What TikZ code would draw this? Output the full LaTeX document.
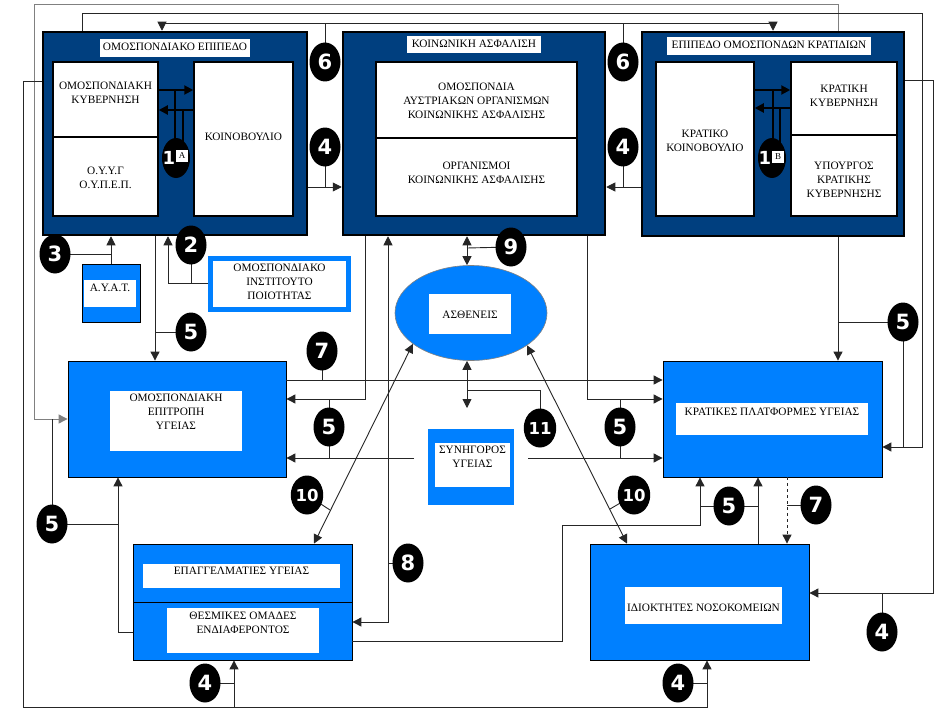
\documentclass[tikz,border=0pt]{standalone}
\usepackage{fontspec}
\setmainfont{Liberation Serif}
\newfontfamily\badgefont{DejaVu Sans}
\usetikzlibrary{arrows.meta,shapes.geometric,calc}
\definecolor{navy}{RGB}{0,63,127}
\definecolor{bright}{RGB}{0,128,255}
\tikzset{
 conn/.style={draw=black!85,line width=0.9pt},
 arr/.style={-{Triangle[length=9pt,width=9pt]}},
 darr/.style={{Triangle[length=9pt,width=9pt]}-{Triangle[length=9pt,width=9pt]}},
 thickconn/.style={draw=black,line width=2pt},
 darkbox/.style={draw=black,line width=2.5pt,fill=navy,inner sep=0},
 wbox/.style={draw=black,line width=1.5pt,fill=white,inner sep=0},
 bbox/.style={draw=black,line width=0.8pt,fill=bright,inner sep=0},
 wlab/.style={fill=white,inner sep=0},
 txt/.style={font=\fontsize{11.3}{14}\selectfont,align=center,inner sep=0,text=black},
 badge/.style={ellipse,fill=black,inner sep=0,minimum width=31,minimum height=39,text=white,font=\badgefont\bfseries\fontsize{21}{21}\selectfont},
 badgesm/.style={badge,font=\badgefont\bfseries\fontsize{16.5}{16.5}\selectfont},
}
\begin{document}
\begin{tikzpicture}[x=1pt,y=-1pt]
\useasboundingbox[fill=white] (0,0) rectangle (938,709);
% ---------- top level boxes
\node[darkbox,minimum width=264,minimum height=203] (L) at (175,133.5) {};
\node[wlab,minimum width=150,minimum height=18] (LT) at (175,48) {};
\node[txt] (LTt) at (175,47) {ΟΜΟΣΠΟΝΔΙΑΚΟ ΕΠΙΠΕΔΟ};
\node[wbox,minimum width=105,minimum height=75] (LK) at (105.5,99.5) {};
\node[txt] (LKt) at (105.5,93) {ΟΜΟΣΠΟΝΔΙΑΚΗ\\ΚΥΒΕΡΝΗΣΗ};
\node[wbox,minimum width=105,minimum height=79] (LO) at (105.5,176.5) {};
\node[txt] (LOt) at (105.5,177.5) {Ο.Υ.Υ.Γ\\Ο.Υ.Π.Ε.Π.};
\node[wbox,minimum width=99,minimum height=154] (LP) at (243.5,139) {};
\node[txt] (LPt) at (243.5,136.5) {ΚΟΙΝΟΒΟΥΛΙΟ};

\node[darkbox,minimum width=262,minimum height=203] (M) at (474,133.5) {};
\node[wlab,minimum width=134,minimum height=17] (MT) at (474,44.5) {};
\node[txt] (MTt) at (474,43.5) {ΚΟΙΝΩΝΙΚΗ ΑΣΦΑΛΙΣΗ};
\node[wbox,minimum width=201,minimum height=76] (MU) at (476.5,100) {};
\node[txt] (MUt) at (476.5,100.5) {ΟΜΟΣΠΟΝΔΙΑ\\ΑΥΣΤΡΙΑΚΩΝ ΟΡΓΑΝΙΣΜΩΝ\\ΚΟΙΝΩΝΙΚΗΣ ΑΣΦΑΛΙΣΗΣ};
\node[wbox,minimum width=201,minimum height=78] (ML) at (476.5,177) {};
\node[txt] (MLt) at (476.5,173) {ΟΡΓΑΝΙΣΜΟΙ\\ΚΟΙΝΩΝΙΚΗΣ ΑΣΦΑΛΙΣΗΣ};

\node[darkbox,minimum width=262,minimum height=204] (R) at (773,134) {};
\node[wlab,minimum width=204,minimum height=18] (RT) at (769,46) {};
\node[txt] (RTt) at (769,44.5) {ΕΠΙΠΕΔΟ ΟΜΟΣΠΟΝΔΩΝ ΚΡΑΤΙΔΙΩΝ};
\node[wbox,minimum width=98,minimum height=154] (RP) at (705,139) {};
\node[txt] (RPt) at (705,141) {ΚΡΑΤΙΚΟ\\ΚΟΙΝΟΒΟΥΛΙΟ};
\node[wbox,minimum width=106,minimum height=73] (RK) at (844,98.5) {};
\node[txt] (RKt) at (844,96) {ΚΡΑΤΙΚΗ\\ΚΥΒΕΡΝΗΣΗ};
\node[wbox,minimum width=106,minimum height=81] (RY) at (844,175.5) {};
\node[txt] (RYt) at (844,180) {ΥΠΟΥΡΓΟΣ\\ΚΡΑΤΙΚΗΣ\\ΚΥΒΕΡΝΗΣΗΣ};

% ---------- middle row
\node[bbox,minimum width=58,minimum height=58] (AYAT) at (111,293) {};
\node[wlab,minimum width=52,minimum height=27] (AYATw) at (110,293.5) {};
\node[txt] (AYATt) at (110,288) {Α.Υ.Α.Τ.};

\node[draw=bright,line width=5pt,fill=white,inner sep=0,minimum width=138,minimum height=51] (I) at (279.5,284) {};
\node[txt] (It) at (279.5,282) {ΟΜΟΣΠΟΝΔΙΑΚΟ\\ΙΝΣΤΙΤΟΥΤΟ\\ΠΟΙΟΤΗΤΑΣ};

\node[ellipse,draw=gray,line width=0.6pt,fill=bright,inner sep=0,minimum width=152,minimum height=95] (E) at (471,313) {};
\node[wlab,minimum width=82,minimum height=40] (Ew) at (470,314) {};
\node[txt] (Et) at (470,314.5) {ΑΣΘΕΝΕΙΣ};

\node[bbox,minimum width=218,minimum height=116] (EP) at (177,419) {};
\node[wlab,minimum width=132,minimum height=60] (EPw) at (176,421) {};
\node[txt] (EPt) at (176,412) {ΟΜΟΣΠΟΝΔΙΑΚΗ\\ΕΠΙΤΡΟΠΗ\\ΥΓΕΙΑΣ};

\node[bbox,minimum width=219,minimum height=116] (KP) at (772.5,419) {};
\node[wlab,minimum width=192,minimum height=32] (KPw) at (772,419) {};
\node[txt] (KPt) at (772,411.5) {ΚΡΑΤΙΚΕΣ ΠΛΑΤΦΟΡΜΕΣ ΥΓΕΙΑΣ};

\node[fill=bright,inner sep=0,minimum width=86,minimum height=76] (S) at (471,467) {};
\node[wlab,minimum width=75,minimum height=44] (Sw) at (472.5,465) {};
\node[txt] (St) at (472.5,457) {ΣΥΝΗΓΟΡΟΣ\\ΥΓΕΙΑΣ};

% ---------- bottom row
\node[bbox,minimum width=219,minimum height=58] (BU) at (242.5,573) {};
\node[bbox,minimum width=219,minimum height=58] (BL) at (242.5,631) {};
\node[wlab,minimum width=197,minimum height=24] (BUw) at (241.5,576) {};
\node[txt] (BUt) at (241.5,571) {ΕΠΑΓΓΕΛΜΑΤΙΕΣ ΥΓΕΙΑΣ};
\node[wlab,minimum width=152,minimum height=45] (BLw) at (243,630.5) {};
\node[txt] (BLt) at (243,622.5) {ΘΕΣΜΙΚΕΣ ΟΜΑΔΕΣ\\ΕΝΔΙΑΦΕΡΟΝΤΟΣ};

\node[bbox,minimum width=219,minimum height=116] (H) at (699.5,602) {};
\node[wlab,minimum width=157,minimum height=37] (Hw) at (703.5,605.5) {};
\node[txt] (Ht) at (703.5,608) {ΙΔΙΟΚΤΗΤΕΣ ΝΟΣΟΚΟΜΕΙΩΝ};

% ---------- badge positions
\coordinate (p6a) at (325,62);   \coordinate (p6b) at (623,62);
\coordinate (p4a) at (325,147);  \coordinate (p4b) at (623,147);
\coordinate (p3) at (55,254);    \coordinate (p2) at (191,245);
\coordinate (p9) at (511,247);   \coordinate (p5a) at (191,332);
\coordinate (p7a) at (322,351);  \coordinate (p5b) at (329,427);
\coordinate (p11) at (540,428);  \coordinate (p5c) at (620,427);
\coordinate (p5d) at (903,322);  \coordinate (p10a) at (307,495);
\coordinate (p10b) at (634,495); \coordinate (p5e) at (52,524);
\coordinate (p8) at (408,563);   \coordinate (p5f) at (729,506);
\coordinate (p7b) at (816,505);  \coordinate (p4c) at (882,632);
\coordinate (p4d) at (205,683);  \coordinate (p4e) at (678,683);
\coordinate (p1A) at (176,158);  \coordinate (p1B) at (772,158);

% ---------- connectors
\draw[conn,draw=gray,arr] (R.north -| 838,0) -- (838,4) -- (34,4) -- (34,419) -- (EP.west |- 0,419);
\draw[conn,arr] (L.north -| 82,0) -- (82,13) -- (922,13) -- (922,447) -- (KP.east |- 0,447);
\draw[conn,darr] (L.north -| 162,0) -- (162,23) -- (773,23) -- (R.north -| 773,0);
\draw[conn,arr] (L.west |- 0,81) -- (23,81) -- (23,707) -- (707,707) -- (H.south -| 707,0);
\draw[conn,arr] (234,707) -- (BL.south -| 234,0);
\draw[conn,arr] (R.east |- 0,80) -- (933,80) -- (933,593) -- (H.east |- 0,593);
\draw[conn,arr] (L.east |- 0,187) -- (M.west |- 0,187);
\draw[conn,arr] (R.west |- 0,187) -- (M.east |- 0,187);
\draw[conn] (p6a) -- (325,23);
\draw[conn] (p6b) -- (623,23);
\draw[conn] (p4a) -- (325,187);
\draw[conn] (p4b) -- (623,187);
% inside federal / state level
\draw[thickconn,arr] (LK.east |- 0,90) -- (LP.west |- 0,90);
\draw[thickconn,arr] (LP.west |- 0,110) -- (LK.east |- 0,110);
\draw[thickconn] (175,145) -- (175,90);
\draw[thickconn] (183,145) -- (183,110);
\draw[thickconn,arr] (RP.east |- 0,90) -- (RK.west |- 0,90);
\draw[thickconn,arr] (RK.west |- 0,108) -- (RP.east |- 0,108);
\draw[thickconn] (773,145) -- (773,90);
\draw[thickconn] (780,145) -- (780,108);
% below the federal level
\draw[conn,arr] (AYAT.north) -- (AYAT.north |- L.south);
\draw[conn] (p3) -- (AYAT.north |- p3);
\draw[conn,arr] (I.west |- 0,283) -- (168,283) -- (L.south -| 168,0);
\draw[conn] (p2) -- (191,283);
\draw[conn,arr] (L.south -| 155,0) -- (EP.north -| 155,0);
\draw[conn] (p5a) -- (155,332);
\draw[conn,arr] (EP.east |- 0,380) -- (KP.west |- 0,380);
\draw[conn] (p7a) -- (322,380);
\draw[conn,arr] (M.south -| 365,0) -- (365,399) -- (EP.east |- 0,399);
\draw[conn,arr] (M.south -| 587,0) -- (587,399) -- (KP.west |- 0,399);
\coordinate (sl) at (414,458);
\coordinate (sr) at (528,458);
\draw[conn,arr] (sl) -- (EP.east |- sl);
\draw[conn,arr] (sr) -- (KP.west |- sr);
\draw[conn] (329,399) -- (329,458);
\draw[conn] (620,399) -- (620,458);
\draw[conn,darr] (M.south -| 467,0) -- (E.north -| 467,0);
\draw[conn] (467,248) -- (p9);
\coordinate (e11) at (467,408);
\draw[conn,darr] (E.south -| 467,0) -- (e11);
\draw[conn] (467,390) -- (540,390) -- (p11);
\draw[conn,darr] (M.south -| 388,0) -- (388,622) -- (BL.east |- 0,622);
\draw[conn] (p8) -- (388,563);
\draw[conn,darr] (E.208) -- (BU.north -| 314,0);
\draw[conn,darr] (E.330) -- (H.north -| 627,0);
\draw[conn] (p10a) -- (330,510);
\draw[conn] (p10b) -- (610,509);
\draw[conn,arr] (BL.east |- 0,641) -- (562,641) -- (562,525) -- (700,525) -- (KP.south -| 700,0);
\draw[conn,arr] (H.north -| 758,0) -- (KP.south -| 758,0);
\draw[conn] (700,506) -- (758,506);
\draw[conn,dashed,arr] (KP.south -| 787,0) -- (H.north -| 787,0);
\draw[conn] (787,505) -- (p7b);
\draw[conn,arr] (BL.west |- 0,632) -- (118,632) -- (EP.south -| 118,0);
\draw[conn] (p5e) -- (118,524);
\draw[conn] (p5e) -- (52,419);
\draw[conn,arr] (R.south -| 838,0) -- (KP.north -| 838,0);
\draw[conn] (838,322) -- (p5d);
\draw[conn] (p5d) -- (903,447);
\draw[conn] (p4d) -- (234,683);
\draw[conn] (p4e) -- (707,683);
\draw[conn] (p4c) -- (882,593);

% ---------- badges
\node[badge] (b6a) at (p6a) {6};
\node[badge] (b6b) at (p6b) {6};
\node[badge] (b4a) at (p4a) {4};
\node[badge] (b4b) at (p4b) {4};
\node[badge] (b3) at (p3) {3};
\node[badge] (b2) at (p2) {2};
\node[badge] (b9) at (p9) {9};
\node[badge] (b5a) at (p5a) {5};
\node[badge] (b7a) at (p7a) {7};
\node[badge] (b5b) at (p5b) {5};
\node[badgesm] (b11) at (p11) {11};
\node[badge] (b5c) at (p5c) {5};
\node[badge] (b5d) at (p5d) {5};
\node[badgesm] (b10a) at (p10a) {10};
\node[badgesm] (b10b) at (p10b) {10};
\node[badge] (b5e) at (p5e) {5};
\node[badge] (b8) at (p8) {8};
\node[badge] (b5f) at (p5f) {5};
\node[badge] (b7b) at (p7b) {7};
\node[badge] (b4c) at (p4c) {4};
\node[badge] (b4d) at (p4d) {4};
\node[badge] (b4e) at (p4e) {4};
\node[badge,minimum width=28,minimum height=40] (b1A) at (p1A) {};
\node[text=white,inner sep=0,font=\badgefont\bfseries\fontsize{18}{18}\selectfont] (b1An) at (169,158) {1};
\node[fill=white,inner sep=1pt,minimum width=12,minimum height=12,font=\fontsize{9}{9}\selectfont] (b1Al) at (182,156) {Α};
\node[badge,minimum width=28,minimum height=40] (b1B) at (p1B) {};
\node[text=white,inner sep=0,font=\badgefont\bfseries\fontsize{18}{18}\selectfont] (b1Bn) at (765,158) {1};
\node[fill=white,inner sep=1pt,minimum width=12,minimum height=12,font=\fontsize{9}{9}\selectfont] (b1Bl) at (778,157) {Β};
\end{tikzpicture}
\end{document}
